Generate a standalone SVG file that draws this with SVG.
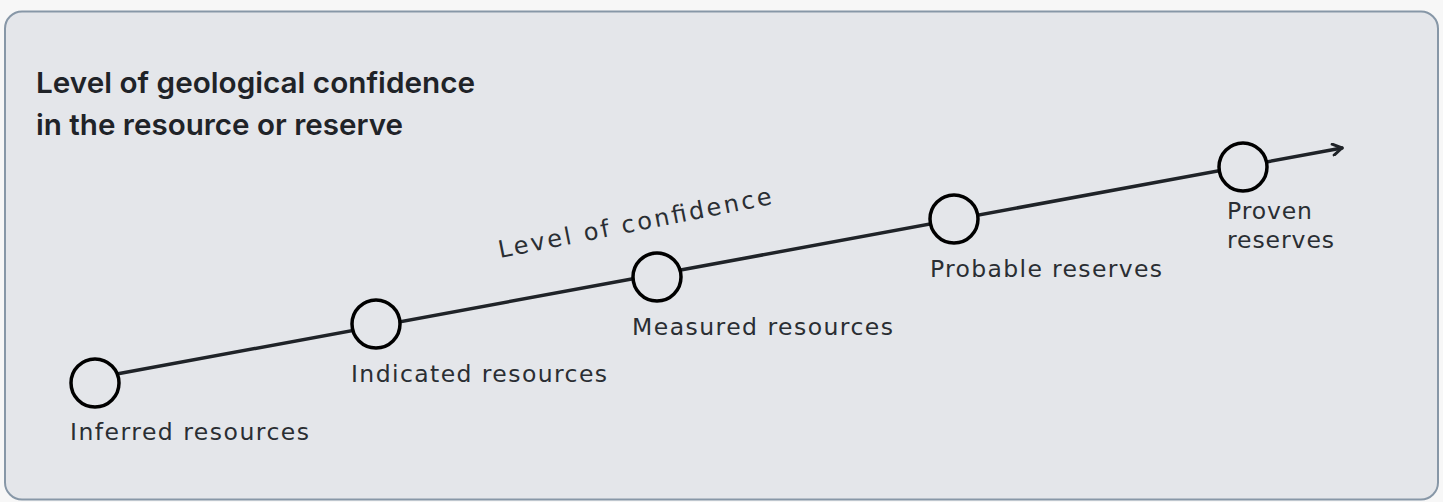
<svg xmlns="http://www.w3.org/2000/svg" width="1443" height="502" viewBox="0 0 1443 502">
  <style>
    .panel { fill: #e4e6ea; stroke: #8797a7; stroke-width: 2; }
    .title { font-family: Inter, "Liberation Sans", sans-serif; font-weight: 600; font-size: 29px; fill: #1f2328; }
    .label { font-family: "DejaVu Sans", "Liberation Sans", sans-serif; font-size: 23.5px; fill: #2a2e33; }
    .axis-label { font-family: "DejaVu Sans", "Liberation Sans", sans-serif; font-size: 24px; fill: #2a2e33; }
    .node circle { fill: #e4e6ea; stroke: #000000; stroke-width: 3.5; }
    .axis { stroke: #1f2328; stroke-width: 3.5; fill: none; stroke-linecap: round; }
  </style>
  <defs>
    <marker id="arrow" viewBox="0 0 14 14" refX="12" refY="7" markerWidth="14" markerHeight="14" markerUnits="userSpaceOnUse" orient="auto">
      <path d="M3,1.5 L12,7 L3,12.5" fill="none" stroke="#1f2328" stroke-width="3" stroke-linecap="round" stroke-linejoin="round"/>
    </marker>
  </defs>
  <rect x="0" y="0" width="1443" height="502" fill="#f7f7f7"/>
  <rect class="panel" x="5" y="11.5" width="1433" height="488" rx="17" ry="17"/>

  <g id="title">
    <text class="title" x="36" y="93" textLength="439" lengthAdjust="spacingAndGlyphs">Level of geological confidence</text>
    <text class="title" x="36" y="135" textLength="367" lengthAdjust="spacingAndGlyphs">in the resource or reserve</text>
  </g>

  <g id="connectors">
    <line class="axis" x1="95" y1="378" x2="1342" y2="148" marker-end="url(#arrow)"/>
  </g>

  <text class="axis-label" x="500" y="258" transform="rotate(-11.2 500 258)" textLength="278" lengthAdjust="spacing">Level of confidence</text>

  <g id="inferred" class="node">
    <circle cx="95" cy="383" r="24"/>
    <text class="label" x="70" y="440" textLength="239" lengthAdjust="spacing">Inferred resources</text>
  </g>
  <g id="indicated" class="node">
    <circle cx="376" cy="324" r="24"/>
    <text class="label" x="351" y="382" textLength="256" lengthAdjust="spacing">Indicated resources</text>
  </g>
  <g id="measured" class="node">
    <circle cx="657" cy="277" r="24"/>
    <text class="label" x="632" y="335" textLength="261" lengthAdjust="spacing">Measured resources</text>
  </g>
  <g id="probable" class="node">
    <circle cx="954" cy="219" r="24"/>
    <text class="label" x="930" y="277" textLength="232" lengthAdjust="spacing">Probable reserves</text>
  </g>
  <g id="proven" class="node">
    <circle cx="1243" cy="167" r="24"/>
    <text class="label" x="1227" y="219" textLength="85" lengthAdjust="spacing">Proven</text>
    <text class="label" x="1227" y="248" textLength="107" lengthAdjust="spacing">reserves</text>
  </g>
</svg>
